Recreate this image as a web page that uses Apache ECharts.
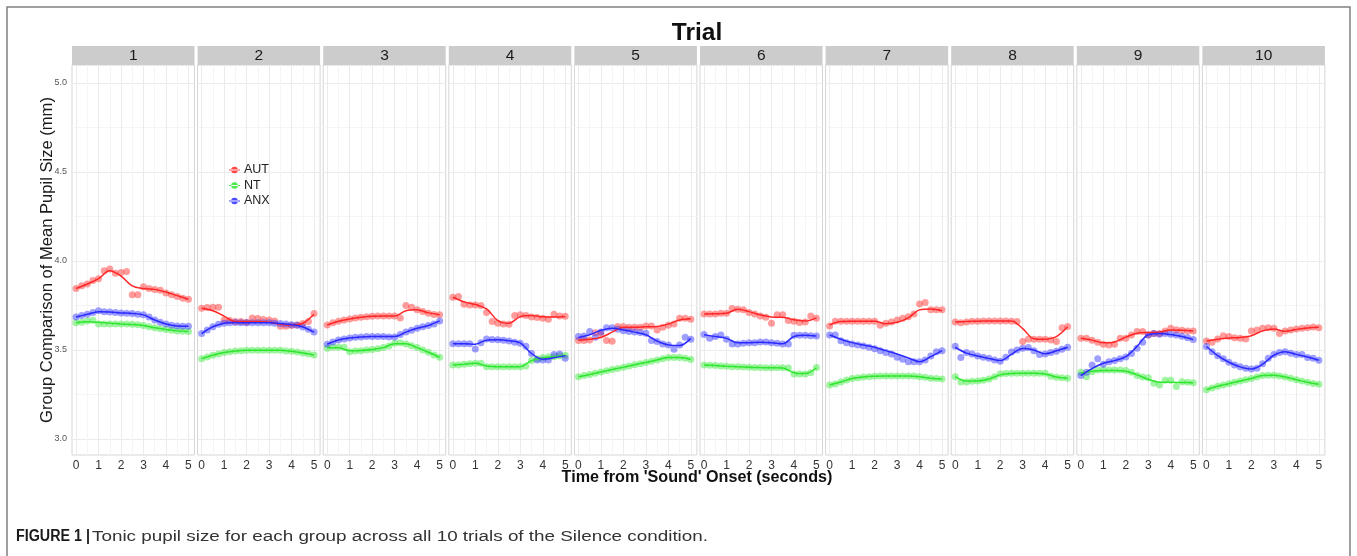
<!DOCTYPE html>
<html><head><meta charset="utf-8">
<script src="https://cdn.jsdelivr.net/npm/echarts@6/dist/echarts.min.js"></script>
<style>html,body{margin:0;padding:0;background:#fff;}#c{width:1357px;height:556px;}</style>
</head><body><div id="c"></div>
<script>
// ---------------- data ----------------
const trials = ['1','2','3','4','5','6','7','8','9','10'];
const groups = ['AUT','NT','ANX'];
// observed mean pupil size, every 0.25 s
const timePoints = [0,0.25,0.5,0.75,1,1.25,1.5,1.75,2,2.25,2.5,2.75,3,3.25,3.5,3.75,4,4.25,4.5,4.75,5];
// smoothed (loess) curves, read every 0.5 s
const fitTimes = [0,0.5,1,1.5,2,2.5,3,3.5,4,4.5,5];
const xTickLabels = [0,1,2,3,4,5];
const xGridValues = [0,0.5,1,1.5,2,2.5,3,3.5,4,4.5,5];
const yTickLabels = [3.0,3.5,4.0,4.5,5.0];
const yGridValues = [3.0,3.25,3.5,3.75,4.0,4.25,4.5,4.75,5.0];

const AUT = [
  [3.845,3.86,3.87,3.89,3.90,3.945,3.955,3.93,3.935,3.94,3.81,3.81,3.855,3.845,3.84,3.835,3.82,3.81,3.80,3.79,3.785],
  [3.734,3.738,3.74,3.74,3.668,3.665,3.66,3.66,3.656,3.68,3.676,3.671,3.668,3.662,3.633,3.633,3.637,3.64,3.648,3.66,3.704],
  [3.64,3.652,3.661,3.668,3.674,3.68,3.683,3.687,3.689,3.69,3.69,3.69,3.69,3.68,3.75,3.74,3.725,3.716,3.706,3.699,3.698],
  [3.796,3.80,3.757,3.753,3.753,3.75,3.71,3.66,3.65,3.646,3.644,3.693,3.697,3.693,3.685,3.682,3.678,3.672,3.70,3.69,3.689],
  [3.553,3.553,3.556,3.597,3.59,3.553,3.549,3.631,3.631,3.627,3.627,3.627,3.635,3.635,3.612,3.627,3.638,3.646,3.678,3.678,3.672],
  [3.702,3.702,3.702,3.706,3.706,3.732,3.728,3.725,3.71,3.702,3.691,3.684,3.65,3.697,3.697,3.665,3.661,3.654,3.657,3.691,3.678],
  [3.635,3.661,3.661,3.661,3.661,3.661,3.661,3.661,3.661,3.638,3.65,3.657,3.668,3.678,3.687,3.702,3.758,3.766,3.725,3.725,3.725],
  [3.657,3.653,3.657,3.661,3.661,3.663,3.663,3.663,3.663,3.663,3.661,3.659,3.547,3.56,3.56,3.56,3.56,3.556,3.547,3.625,3.631],
  [3.565,3.565,3.554,3.543,3.532,3.528,3.532,3.565,3.565,3.584,3.603,3.603,3.584,3.592,3.592,3.607,3.622,3.614,3.61,3.607,3.607],
  [3.55,3.543,3.562,3.58,3.575,3.569,3.565,3.562,3.607,3.612,3.622,3.625,3.622,3.592,3.607,3.612,3.618,3.622,3.625,3.629,3.625]
];
const NT = [
  [3.652,3.655,3.663,3.667,3.646,3.645,3.645,3.645,3.645,3.645,3.644,3.641,3.637,3.63,3.624,3.619,3.615,3.61,3.607,3.605,3.603],
  [3.451,3.46,3.47,3.477,3.485,3.49,3.494,3.496,3.498,3.498,3.498,3.498,3.498,3.498,3.498,3.494,3.492,3.489,3.483,3.477,3.472],
  [3.51,3.515,3.515,3.515,3.49,3.494,3.496,3.5,3.503,3.506,3.513,3.522,3.537,3.541,3.534,3.524,3.513,3.5,3.487,3.472,3.459],
  [3.416,3.416,3.42,3.422,3.425,3.425,3.406,3.406,3.406,3.406,3.406,3.406,3.406,3.41,3.44,3.45,3.458,3.462,3.462,3.466,3.47],
  [3.349,3.356,3.362,3.369,3.376,3.383,3.39,3.396,3.403,3.41,3.417,3.423,3.43,3.437,3.444,3.45,3.457,3.458,3.457,3.453,3.446],
  [3.416,3.414,3.412,3.41,3.408,3.406,3.405,3.404,3.403,3.402,3.401,3.4,3.4,3.4,3.4,3.398,3.365,3.365,3.365,3.372,3.402],
  [3.303,3.308,3.32,3.331,3.339,3.344,3.348,3.35,3.352,3.354,3.354,3.354,3.354,3.354,3.354,3.354,3.35,3.346,3.341,3.339,3.337],
  [3.349,3.32,3.32,3.324,3.326,3.33,3.337,3.349,3.365,3.367,3.369,3.369,3.369,3.369,3.369,3.369,3.369,3.352,3.346,3.344,3.341],
  [3.374,3.35,3.378,3.387,3.387,3.387,3.387,3.387,3.385,3.374,3.356,3.348,3.344,3.313,3.303,3.33,3.33,3.294,3.322,3.318,3.316],
  [3.277,3.286,3.296,3.303,3.31,3.318,3.326,3.333,3.34,3.348,3.356,3.358,3.358,3.354,3.348,3.341,3.333,3.326,3.318,3.312,3.307]
];
const ANX = [
  [3.685,3.693,3.70,3.71,3.72,3.715,3.713,3.71,3.708,3.706,3.705,3.701,3.697,3.685,3.668,3.655,3.646,3.638,3.635,3.633,3.633],
  [3.592,3.612,3.63,3.644,3.65,3.652,3.654,3.652,3.652,3.652,3.652,3.652,3.652,3.65,3.648,3.646,3.642,3.638,3.629,3.616,3.60],
  [3.532,3.545,3.556,3.562,3.567,3.571,3.573,3.575,3.575,3.575,3.575,3.573,3.573,3.586,3.60,3.611,3.622,3.63,3.637,3.645,3.663],
  [3.535,3.535,3.535,3.535,3.505,3.54,3.562,3.558,3.557,3.555,3.55,3.543,3.537,3.52,3.48,3.444,3.444,3.444,3.475,3.477,3.453],
  [3.575,3.578,3.603,3.571,3.60,3.625,3.625,3.616,3.608,3.603,3.60,3.598,3.594,3.553,3.547,3.534,3.528,3.504,3.528,3.571,3.56],
  [3.586,3.565,3.575,3.584,3.56,3.533,3.533,3.537,3.541,3.541,3.545,3.545,3.541,3.537,3.533,3.533,3.582,3.582,3.582,3.58,3.578],
  [3.584,3.584,3.551,3.541,3.534,3.528,3.522,3.515,3.506,3.496,3.485,3.477,3.459,3.447,3.434,3.434,3.434,3.443,3.466,3.49,3.496],
  [3.52,3.457,3.485,3.477,3.466,3.459,3.453,3.443,3.436,3.459,3.489,3.5,3.509,3.513,3.496,3.474,3.477,3.485,3.492,3.504,3.515],
  [3.356,3.374,3.415,3.45,3.42,3.434,3.441,3.45,3.461,3.48,3.51,3.543,3.584,3.592,3.588,3.592,3.588,3.584,3.577,3.569,3.558],
  [3.519,3.49,3.468,3.45,3.431,3.416,3.405,3.397,3.393,3.397,3.423,3.453,3.475,3.486,3.49,3.481,3.475,3.475,3.457,3.453,3.442]
];
const AUT_FIT = [
  [3.845,3.87,3.90,3.945,3.915,3.86,3.845,3.84,3.825,3.805,3.785],
  [3.734,3.72,3.69,3.66,3.66,3.66,3.655,3.645,3.64,3.65,3.70],
  [3.64,3.661,3.674,3.683,3.689,3.69,3.69,3.72,3.725,3.708,3.698],
  [3.796,3.77,3.755,3.73,3.665,3.65,3.687,3.693,3.686,3.685,3.688],
  [3.555,3.56,3.57,3.60,3.628,3.628,3.63,3.632,3.645,3.668,3.675],
  [3.702,3.703,3.706,3.728,3.715,3.697,3.685,3.683,3.67,3.662,3.68],
  [3.64,3.66,3.661,3.661,3.661,3.647,3.655,3.68,3.725,3.73,3.72],
  [3.657,3.66,3.661,3.663,3.663,3.662,3.62,3.563,3.56,3.575,3.63],
  [3.565,3.555,3.54,3.545,3.572,3.594,3.598,3.60,3.612,3.61,3.607],
  [3.55,3.56,3.567,3.57,3.58,3.607,3.617,3.605,3.615,3.623,3.627]
];
const NT_FIT = [
  [3.652,3.658,3.655,3.65,3.646,3.643,3.637,3.624,3.615,3.607,3.603],
  [3.451,3.47,3.485,3.494,3.498,3.498,3.498,3.498,3.492,3.483,3.472],
  [3.512,3.512,3.495,3.497,3.503,3.513,3.535,3.535,3.513,3.487,3.459],
  [3.416,3.42,3.425,3.41,3.406,3.406,3.406,3.44,3.455,3.462,3.47],
  [3.349,3.362,3.376,3.39,3.403,3.417,3.43,3.444,3.457,3.457,3.446],
  [3.416,3.412,3.408,3.405,3.403,3.401,3.40,3.398,3.372,3.367,3.40],
  [3.303,3.32,3.339,3.348,3.352,3.354,3.354,3.354,3.35,3.341,3.337],
  [3.35,3.325,3.326,3.337,3.36,3.368,3.369,3.369,3.365,3.348,3.341],
  [3.37,3.38,3.385,3.385,3.38,3.36,3.335,3.318,3.318,3.317,3.316],
  [3.277,3.296,3.31,3.326,3.34,3.356,3.358,3.348,3.333,3.318,3.307]
];
const ANX_FIT = [
  [3.685,3.70,3.715,3.713,3.708,3.705,3.697,3.668,3.646,3.635,3.633],
  [3.592,3.63,3.65,3.654,3.652,3.652,3.652,3.648,3.642,3.629,3.60],
  [3.532,3.556,3.567,3.573,3.575,3.575,3.575,3.60,3.622,3.637,3.663],
  [3.535,3.535,3.532,3.555,3.557,3.552,3.54,3.48,3.448,3.456,3.468],
  [3.57,3.585,3.61,3.622,3.612,3.60,3.585,3.55,3.528,3.525,3.565],
  [3.585,3.575,3.565,3.54,3.541,3.543,3.541,3.535,3.575,3.582,3.578],
  [3.584,3.56,3.541,3.528,3.515,3.496,3.477,3.455,3.434,3.462,3.496],
  [3.515,3.482,3.466,3.452,3.44,3.475,3.508,3.50,3.478,3.495,3.515],
  [3.356,3.395,3.425,3.44,3.462,3.52,3.585,3.592,3.586,3.575,3.558],
  [3.519,3.468,3.431,3.405,3.393,3.42,3.47,3.49,3.475,3.46,3.442]
];
const groupData = {AUT: AUT, NT: NT, ANX: ANX};
const groupFit = {AUT: AUT_FIT, NT: NT_FIT, ANX: ANX_FIT};

// ---------------- styling / layout ----------------
const colors = {AUT:'#ff2626', NT:'#2ee62e', ANX:'#2a2aff'};
const FONT = 'Liberation Sans, Arial, sans-serif';
const NARROW = '"Liberation Sans Narrow", Liberation Sans, Arial, sans-serif';
const P0 = 72, PW = 122.5, PSTEP = 125.6, TOP = 65, H = 390;
const STRIP_TOP = 46, STRIP_H = 19;

const mctx = document.createElement('canvas').getContext('2d');
function textWidth(txt, font) { mctx.font = font; return mctx.measureText(txt).width; }

const yTitle = 'Group Comparison of Mean Pupil Size (mm)';
const yTitleSize = 16 * 326 / textWidth(yTitle, '16px ' + FONT);
const xTitle = "Time from 'Sound' Onset (seconds)";
const xTitleSize = 15 * 271 / textWidth(xTitle, 'bold 15px ' + FONT);
const capBold = 'FIGURE 1 |';
const capText = 'Tonic pupil size for each group across all 10 trials of the Silence condition.';
const capScale = 616 / textWidth(capText, '15.5px ' + FONT);
const capBoldScale = 74 / textWidth(capBold, 'bold 16px ' + NARROW);

const grids = [], xAxes = [], yAxes = [], series = [], graphics = [];

graphics.push({type:'rect', shape:{x:7, y:7, width:1343, height:620},
  style:{fill:'none', stroke:'#808080', lineWidth:1.5}, silent:true});
graphics.push({type:'text', x:697, y:33, style:{text:'Trial', font:'bold 24.5px '+FONT, fill:'#111',
  textAlign:'center', textVerticalAlign:'middle'}});
graphics.push({type:'text', x:47, y:260, rotation:Math.PI/2, style:{text:yTitle,
  font:yTitleSize.toFixed(2)+'px '+FONT, fill:'#1a1a1a', textAlign:'center', textVerticalAlign:'middle'}});
graphics.push({type:'text', x:697, y:478, style:{text:xTitle,
  font:'bold '+xTitleSize.toFixed(2)+'px '+FONT, fill:'#111', textAlign:'center', textVerticalAlign:'middle'}});
graphics.push({type:'text', x:16, y:537, scaleX:capBoldScale, style:{text:capBold, font:'bold 16px '+NARROW,
  fill:'#1a1a1a', textAlign:'left', textVerticalAlign:'middle'}});
graphics.push({type:'text', x:92, y:537, scaleX:capScale, style:{text:capText, font:'15.5px '+FONT,
  fill:'#333', textAlign:'left', textVerticalAlign:'middle'}});

trials.forEach((tr, i) => {
  const left = P0 + i*PSTEP;
  grids.push({left:left, top:TOP, width:PW, height:H, show:true, backgroundColor:'#fff',
    borderColor:'#d6d6d6', borderWidth:1, containLabel:false});
  graphics.push({type:'rect', shape:{x:left, y:STRIP_TOP, width:PW, height:STRIP_H},
    style:{fill:'#cccccc'}, silent:true});
  graphics.push({type:'text', x:left+PW/2, y:STRIP_TOP+STRIP_H/2+0.5, style:{text:tr, font:'15.5px '+FONT,
    fill:'#1a1a1a', textAlign:'center', textVerticalAlign:'middle'}});
  xAxes.push({type:'value', gridIndex:i, min:-0.18, max:5.27,
    axisLine:{show:false},
    axisTick:{show:false, customValues:xGridValues},
    axisLabel:{show:true, customValues:xTickLabels, fontSize:12, color:'#333', fontFamily:FONT, margin:5},
    splitLine:{show:true, lineStyle:{color:['#ebebeb','#f5f5f5'], width:1}}});
  yAxes.push({type:'value', gridIndex:i, min:2.91, max:5.1,
    axisLine:{show:false},
    axisTick:{show:false, customValues:yGridValues},
    axisLabel:{show:i===0, customValues:yTickLabels, fontSize:9, color:'#555', fontFamily:FONT, margin:5,
      formatter: v => Number(v).toFixed(1)},
    splitLine:{show:true, lineStyle:{color:['#ebebeb','#f5f5f5'], width:1}}});
  groups.forEach(g => {
    series.push({type:'scatter', name:g, xAxisIndex:i, yAxisIndex:i,
      data: timePoints.map((t,k) => [t, groupData[g][i][k]]),
      symbol:'circle', symbolSize:7,
      itemStyle:{color:colors[g], opacity:0.45},
      emphasis:{disabled:true}, animation:false});
    series.push({type:'line', name:g, xAxisIndex:i, yAxisIndex:i,
      data: fitTimes.map((t,k) => [t, groupFit[g][i][k]]),
      smooth:0.35, showSymbol:false, symbol:'none',
      itemStyle:{color:colors[g]},
      lineStyle:{color:colors[g], width:1.5},
      emphasis:{disabled:true}, animation:false});
  });
});

const chart = echarts.init(document.getElementById('c'), null, {renderer:'canvas'});
chart.setOption({
  animation:false,
  backgroundColor:'#fff',
  grid:grids, xAxis:xAxes, yAxis:yAxes, series:series,
  legend:{data:groups, left:224, top:158.5, orient:'vertical', itemWidth:11, itemHeight:11, itemGap:2.5,
    icon:'path://M0,4.6H10V5.4H0Z M2,5a3,3 0 1,0 6,0a3,3 0 1,0 -6,0Z',
    itemStyle:{opacity:0.85},
    textStyle:{fontSize:12.5, color:'#222', fontFamily:FONT, padding:[0,0,0,-1]}},
  graphic:graphics
});
</script></body></html>
